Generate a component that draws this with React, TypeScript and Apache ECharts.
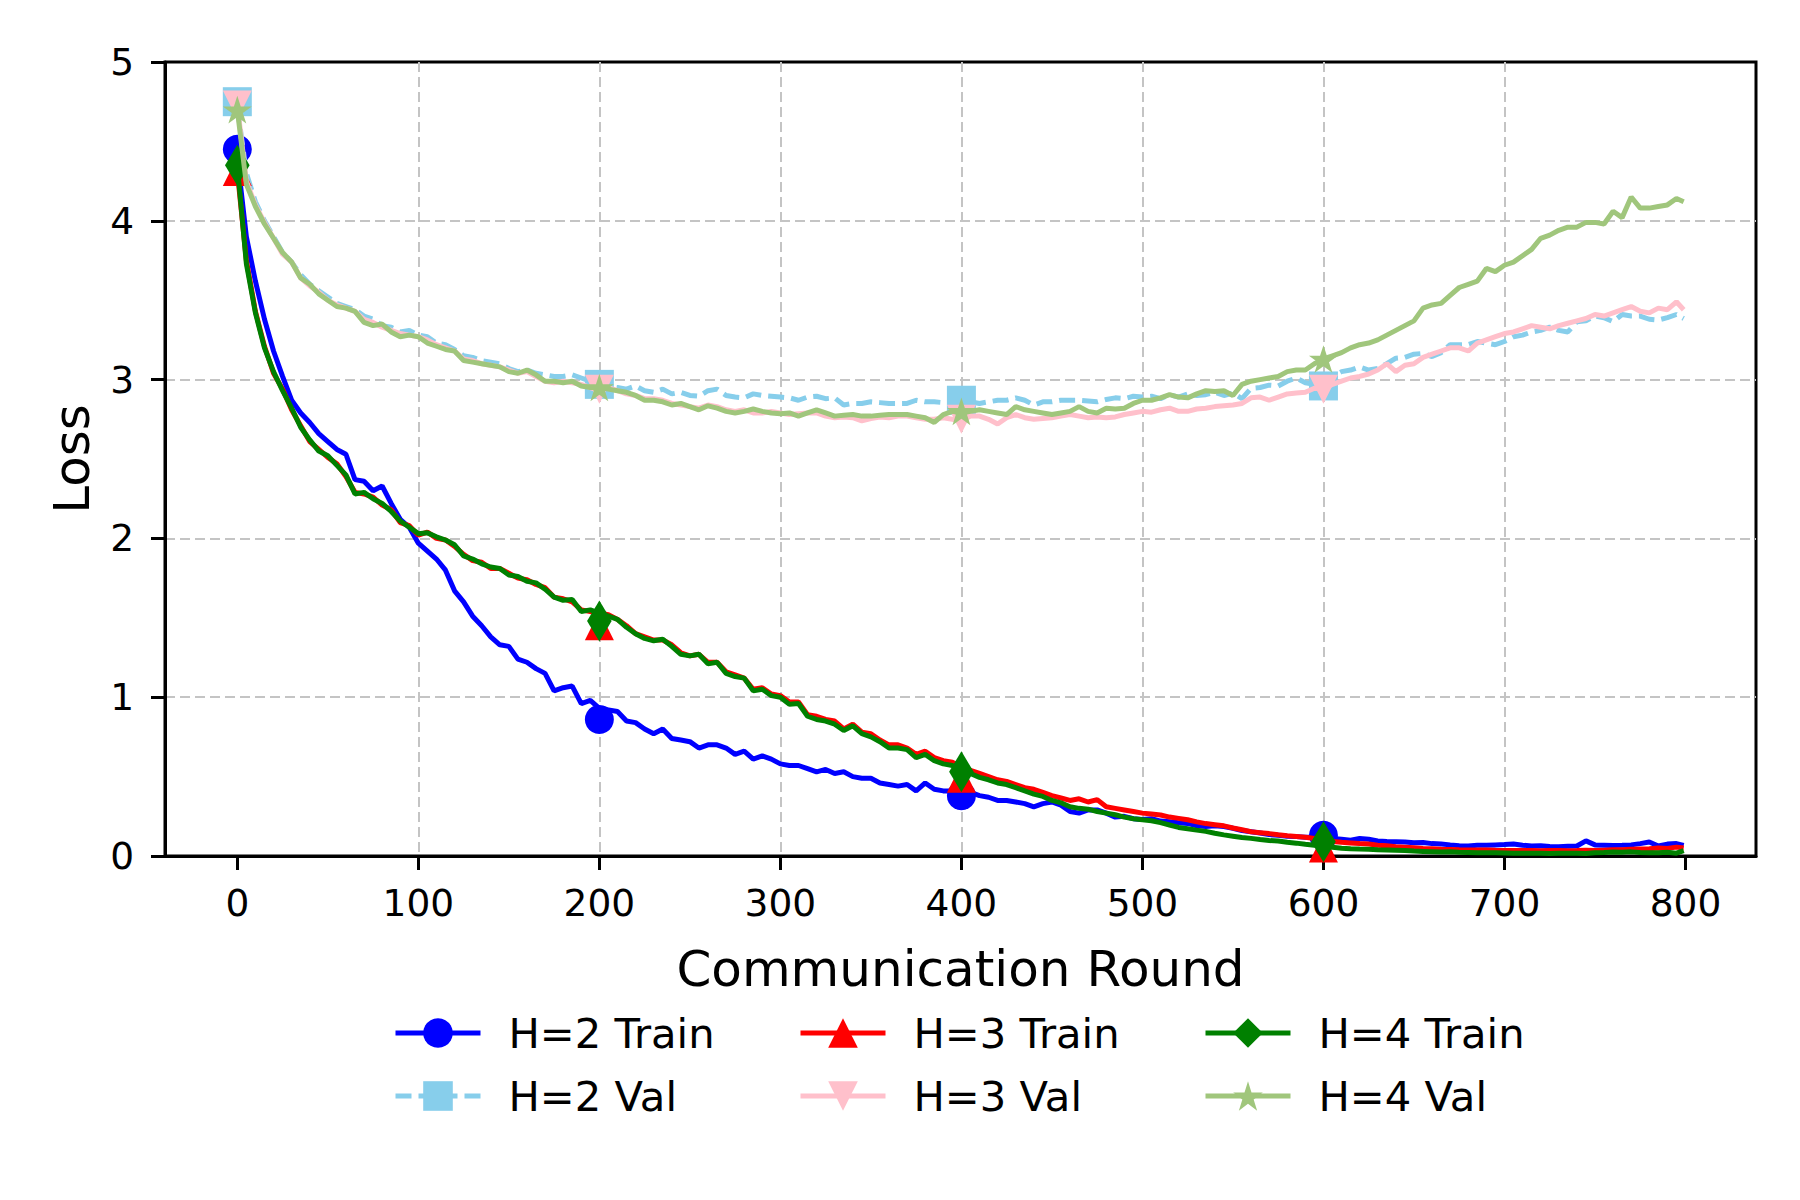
import React, { useEffect, useRef } from 'react';
import * as echarts from 'echarts';

// Communication rounds sampled every 5 rounds (0..795) plus the last round 799
const rounds: number[] = [...Array.from({ length: 160 }, (_, i) => i * 5), 799];
const markerRounds = [0, 200, 400, 600];
const xTicks = [0, 100, 200, 300, 400, 500, 600, 700, 800];

const h2Train = [
  4.40, 3.90, 3.62, 3.38, 3.18, 3.02, 2.87, 2.79, 2.73, 2.66,
  2.61, 2.56, 2.53, 2.37, 2.36, 2.30, 2.33, 2.22, 2.12, 2.07,
  1.97, 1.92, 1.87, 1.80, 1.67, 1.60, 1.51, 1.45, 1.38, 1.33,
  1.32, 1.24, 1.22, 1.18, 1.15, 1.04, 1.06, 1.07, 0.96, 0.98,
  0.93, 0.92, 0.91, 0.85, 0.84, 0.80, 0.77, 0.80, 0.74, 0.73,
  0.72, 0.68, 0.70, 0.70, 0.68, 0.64, 0.66, 0.61, 0.63, 0.61,
  0.58, 0.57, 0.57, 0.55, 0.53, 0.545, 0.52, 0.53, 0.50, 0.49,
  0.49, 0.46, 0.45, 0.44, 0.45, 0.41, 0.46, 0.42, 0.41, 0.41,
  0.42, 0.40, 0.38, 0.37, 0.35, 0.35, 0.34, 0.33, 0.31, 0.33,
  0.34, 0.32, 0.28, 0.27, 0.29, 0.29, 0.27, 0.245, 0.25, 0.235,
  0.23, 0.235, 0.22, 0.216, 0.21, 0.205, 0.19, 0.185, 0.19, 0.185,
  0.175, 0.16, 0.153, 0.145, 0.135, 0.13, 0.125, 0.122, 0.118, 0.12,
  0.125, 0.11, 0.105, 0.10, 0.11, 0.105, 0.095, 0.092, 0.09, 0.088,
  0.084, 0.085, 0.078, 0.076, 0.07, 0.065, 0.063, 0.068, 0.067, 0.07,
  0.072, 0.076, 0.068, 0.063, 0.065, 0.06, 0.059, 0.062, 0.063, 0.095,
  0.07, 0.068, 0.066, 0.067, 0.07, 0.078, 0.088, 0.063, 0.075, 0.078,
  0.067,
];

const h3Train = [
  4.31, 3.75, 3.43, 3.21, 3.04, 2.94, 2.81, 2.71, 2.61, 2.56,
  2.51, 2.47, 2.39, 2.29, 2.28, 2.26, 2.21, 2.18, 2.10, 2.08,
  2.02, 2.04, 2.00, 1.99, 1.95, 1.90, 1.86, 1.85, 1.81, 1.81,
  1.78, 1.75, 1.74, 1.71, 1.69, 1.63, 1.62, 1.60, 1.55, 1.54,
  1.53, 1.52, 1.49, 1.45, 1.40, 1.38, 1.36, 1.36, 1.33, 1.28,
  1.26, 1.27, 1.22, 1.22, 1.16, 1.14, 1.12, 1.05, 1.06, 1.02,
  1.01, 0.97, 0.97, 0.89, 0.88, 0.86, 0.85, 0.80, 0.83, 0.78,
  0.77, 0.73, 0.70, 0.70, 0.68, 0.64, 0.66, 0.62, 0.60, 0.59,
  0.56, 0.54, 0.52, 0.50, 0.48, 0.47, 0.45, 0.43, 0.42, 0.40,
  0.38, 0.365, 0.35, 0.36, 0.34, 0.355, 0.31, 0.30, 0.29, 0.28,
  0.27, 0.264, 0.258, 0.245, 0.237, 0.228, 0.215, 0.204, 0.197, 0.19,
  0.176, 0.165, 0.153, 0.147, 0.141, 0.134, 0.128, 0.123, 0.118, 0.11,
  0.10, 0.092, 0.086, 0.082, 0.078, 0.075, 0.068, 0.064, 0.058, 0.055,
  0.052, 0.048, 0.045, 0.042, 0.041, 0.039, 0.038, 0.037, 0.038, 0.036,
  0.035, 0.034, 0.035, 0.034, 0.033, 0.034, 0.034, 0.033, 0.034, 0.036,
  0.035, 0.037, 0.039, 0.040, 0.042, 0.044, 0.046, 0.05, 0.048, 0.056,
  0.05,
];

const h4Train = [
  4.35, 3.73, 3.42, 3.20, 3.05, 2.93, 2.82, 2.70, 2.62, 2.55,
  2.52, 2.46, 2.40, 2.28, 2.29, 2.25, 2.22, 2.17, 2.11, 2.07,
  2.03, 2.035, 2.01, 1.99, 1.96, 1.89, 1.87, 1.84, 1.82, 1.81,
  1.77, 1.76, 1.73, 1.72, 1.68, 1.63, 1.61, 1.615, 1.54, 1.55,
  1.53, 1.51, 1.49, 1.44, 1.40, 1.37, 1.355, 1.365, 1.32, 1.27,
  1.26, 1.27, 1.21, 1.22, 1.15, 1.13, 1.12, 1.04, 1.05, 1.01,
  1.00, 0.955, 0.96, 0.88, 0.86, 0.85, 0.83, 0.79, 0.82, 0.77,
  0.75, 0.72, 0.68, 0.68, 0.67, 0.62, 0.64, 0.60, 0.58, 0.57,
  0.545, 0.52, 0.495, 0.48, 0.46, 0.45, 0.43, 0.41, 0.39, 0.375,
  0.35, 0.335, 0.31, 0.30, 0.295, 0.28, 0.27, 0.26, 0.245, 0.235,
  0.228, 0.222, 0.21, 0.195, 0.18, 0.172, 0.163, 0.155, 0.143, 0.133,
  0.125, 0.117, 0.111, 0.104, 0.098, 0.094, 0.086, 0.081, 0.074, 0.068,
  0.063, 0.055, 0.049, 0.046, 0.044, 0.043, 0.04, 0.038, 0.036, 0.034,
  0.031, 0.029, 0.027, 0.025, 0.026, 0.023, 0.022, 0.021, 0.021, 0.02,
  0.019, 0.018, 0.017, 0.018, 0.017, 0.016, 0.017, 0.017, 0.018, 0.016,
  0.02, 0.022, 0.025, 0.024, 0.026, 0.022, 0.02, 0.021, 0.023, 0.018,
  0.034,
];

const h2Val = [
  4.72, 4.30, 4.12, 4.00, 3.90, 3.80, 3.74, 3.66, 3.60, 3.56,
  3.52, 3.48, 3.46, 3.44, 3.40, 3.38, 3.34, 3.33, 3.30, 3.31,
  3.28, 3.27, 3.23, 3.22, 3.19, 3.15, 3.14, 3.12, 3.11, 3.10,
  3.07, 3.05, 3.06, 3.04, 3.03, 3.02, 3.02, 3.03, 3.01, 2.99,
  2.97, 2.96, 2.95, 2.94, 2.96, 2.93, 2.92, 2.94, 2.91, 2.92,
  2.90, 2.895, 2.93, 2.94, 2.90, 2.89, 2.885, 2.91, 2.90, 2.895,
  2.89, 2.885, 2.87, 2.89, 2.895, 2.88, 2.885, 2.84, 2.85, 2.85,
  2.86, 2.855, 2.85, 2.85, 2.85, 2.87, 2.86, 2.86, 2.855, 2.86,
  2.87, 2.86, 2.85, 2.86, 2.87, 2.87, 2.885, 2.87, 2.84, 2.86,
  2.86, 2.87, 2.87, 2.87, 2.865, 2.86, 2.875, 2.885, 2.88, 2.895,
  2.89, 2.895, 2.88, 2.905, 2.89, 2.91, 2.90, 2.905, 2.92, 2.90,
  2.915, 2.88, 2.945, 2.95, 2.965, 2.96, 2.99, 3.01, 2.98, 2.97,
  2.97, 3.02, 3.05, 3.06, 3.08, 3.06, 3.07, 3.10, 3.135, 3.14,
  3.16, 3.165, 3.145, 3.17, 3.22, 3.22, 3.22, 3.24, 3.23, 3.22,
  3.24, 3.27, 3.28, 3.30, 3.31, 3.33, 3.31, 3.30, 3.365, 3.37,
  3.40, 3.39, 3.365, 3.41, 3.40, 3.40, 3.38, 3.375, 3.39, 3.41,
  3.385,
];

const h3Val = [
  4.73, 4.25, 4.10, 3.99, 3.89, 3.79, 3.74, 3.64, 3.59, 3.55,
  3.50, 3.47, 3.45, 3.43, 3.38, 3.36, 3.33, 3.31, 3.29, 3.28,
  3.27, 3.25, 3.22, 3.20, 3.18, 3.13, 3.12, 3.10, 3.09, 3.08,
  3.06, 3.04, 3.05, 3.02, 2.99, 2.98, 2.99, 2.98, 2.97, 2.95,
  2.93, 2.95, 2.93, 2.91, 2.90, 2.88, 2.88, 2.87, 2.85, 2.84,
  2.83, 2.82, 2.84, 2.83, 2.81, 2.80, 2.81, 2.79, 2.79, 2.80,
  2.79, 2.78, 2.785, 2.79, 2.79, 2.77, 2.76, 2.765, 2.76, 2.74,
  2.755, 2.765, 2.76, 2.77, 2.77, 2.76, 2.75, 2.75, 2.76, 2.75,
  2.74, 2.77, 2.77, 2.75, 2.72, 2.76, 2.78, 2.76, 2.75, 2.755,
  2.76, 2.77, 2.78, 2.77, 2.76, 2.765, 2.76, 2.765, 2.78, 2.79,
  2.80, 2.795, 2.81, 2.82, 2.80, 2.80, 2.815, 2.82, 2.83, 2.835,
  2.84, 2.85, 2.885, 2.89, 2.87, 2.89, 2.91, 2.915, 2.92, 2.945,
  2.94, 2.97, 2.99, 3.01, 3.02, 3.035, 3.06, 3.10, 3.05, 3.09,
  3.10, 3.14, 3.16, 3.18, 3.20, 3.20, 3.18, 3.23, 3.25, 3.27,
  3.29, 3.30, 3.32, 3.34, 3.33, 3.32, 3.34, 3.355, 3.37, 3.385,
  3.41, 3.40, 3.42, 3.44, 3.46, 3.43, 3.42, 3.45, 3.44, 3.49,
  3.44,
];

const h4Val = [
  4.70, 4.23, 4.09, 3.98, 3.89, 3.80, 3.74, 3.64, 3.60, 3.54,
  3.50, 3.46, 3.45, 3.43, 3.36, 3.34, 3.35, 3.30, 3.27, 3.28,
  3.27, 3.23, 3.21, 3.19, 3.18, 3.12, 3.11, 3.10, 3.09, 3.08,
  3.05, 3.04, 3.06, 3.03, 2.99, 2.99, 2.98, 2.99, 2.96, 2.95,
  2.95, 2.94, 2.93, 2.92, 2.90, 2.87, 2.87, 2.86, 2.84, 2.85,
  2.83, 2.81, 2.835, 2.82, 2.80, 2.79, 2.80, 2.815, 2.80, 2.79,
  2.785, 2.79, 2.77, 2.79, 2.81, 2.79, 2.77, 2.775, 2.78, 2.77,
  2.77, 2.775, 2.78, 2.78, 2.78, 2.77, 2.76, 2.73, 2.78, 2.80,
  2.79, 2.80, 2.81, 2.80, 2.79, 2.78, 2.83, 2.81, 2.80, 2.79,
  2.78, 2.79, 2.80, 2.83, 2.80, 2.79, 2.82, 2.815, 2.82, 2.85,
  2.87, 2.87, 2.885, 2.905, 2.89, 2.885, 2.91, 2.93, 2.925, 2.93,
  2.90, 2.97, 2.99, 3.00, 3.01, 3.02, 3.05, 3.06, 3.06, 3.10,
  3.13, 3.15, 3.17, 3.20, 3.22, 3.23, 3.25, 3.28, 3.31, 3.34,
  3.37, 3.45, 3.47, 3.48, 3.53, 3.58, 3.60, 3.62, 3.70, 3.68,
  3.72, 3.74, 3.78, 3.82, 3.89, 3.91, 3.94, 3.96, 3.96, 3.99,
  3.99, 3.98, 4.06, 4.02, 4.15, 4.08, 4.08, 4.09, 4.10, 4.14,
  4.12,
];

// Marker values at rounds 0, 200, 400, 600
const h2TrainMk = [4.45, 0.86, 0.38, 0.13];
const h3TrainMk = [4.31, 1.45, 0.49, 0.05];
const h4TrainMk = [4.35, 1.48, 0.53, 0.09];
const h2ValMk = [4.75, 2.97, 2.87, 2.96];
const h3ValMk = [4.73, 2.94, 2.75, 2.94];
const h4ValMk = [4.70, 2.95, 2.80, 3.13];

const names = ['H=2 Train', 'H=2 Val', 'H=3 Train', 'H=3 Val', 'H=4 Train', 'H=4 Val'];

const STAR = 'path://M0,-1L0.2245,-0.309L0.9511,-0.309L0.3633,0.118L0.5878,0.809L0,0.382L-0.5878,0.809L-0.3633,0.118L-0.9511,-0.309L-0.2245,-0.309Z';
const TRI_DOWN = 'path://M-1,-1L1,-1L0,1Z';
const THIN_DIAMOND = 'path://M0,-1L0.6,0L0,1L-0.6,0Z';

const FONT = 'DejaVu Sans';
const LW = 5;

const defs = [
  { name: names[0], vals: h2Train, mk: h2TrainMk, color: '#0000ff', dash: 'solid', symbol: 'circle', legendSymbol: 'circle', size: 29 },
  { name: names[1], vals: h2Val, mk: h2ValMk, color: '#87ceeb', dash: [16, 7], symbol: 'rect', legendSymbol: 'rect', size: 29 },
  { name: names[2], vals: h3Train, mk: h3TrainMk, color: '#ff0000', dash: 'solid', symbol: 'triangle', legendSymbol: 'triangle', size: 29 },
  { name: names[3], vals: h3Val, mk: h3ValMk, color: '#ffc0cb', dash: 'solid', symbol: TRI_DOWN, legendSymbol: TRI_DOWN, size: 29 },
  { name: names[4], vals: h4Train, mk: h4TrainMk, color: '#008000', dash: 'solid', symbol: 'diamond', legendSymbol: THIN_DIAMOND, size: [24.6, 41] },
  { name: names[5], vals: h4Val, mk: h4ValMk, color: '#a0c67c', dash: 'solid', symbol: STAR, legendSymbol: STAR, size: 29 },
];

export default function App() {
  const ref = useRef<HTMLDivElement>(null);
  useEffect(() => {
    if (!ref.current) return;
    const chart = echarts.init(ref.current, undefined, { renderer: 'svg' });
    const series: any[] = [];
    defs.forEach((d, i) => {
      series.push({
        type: 'line',
        name: d.name,
        data: rounds.map((r, k) => [r, d.vals[k]]),
        showSymbol: false,
        symbol: d.legendSymbol,
        symbolKeepAspect: true,
        lineStyle: { color: d.color, width: LW, type: d.dash },
        itemStyle: { color: d.color },
        z: 2 + i * 2,
        silent: true,
      });
      series.push({
        type: 'scatter',
        name: d.name + ' markers',
        data: markerRounds.map((r, k) => [r, d.mk[k]]),
        symbol: d.symbol,
        symbolSize: d.size,
        symbolKeepAspect: true,
        itemStyle: { color: d.color, opacity: 1 },
        z: 3 + i * 2,
        silent: true,
      });
    });
    const colLeft = [393, 798, 1203];
    const legends = [0, 1, 2].map((c) => ({
      orient: 'vertical',
      left: colLeft[c],
      top: 1012,
      padding: 0,
      itemWidth: 85,
      itemHeight: 37,
      itemGap: 21,
      selectedMode: false,
      lineStyle: { width: LW },
      data: [names[c * 2], names[c * 2 + 1]],
      textStyle: { fontFamily: FONT, fontSize: 41.7, color: '#000', padding: [0, 0, 0, 23], lineHeight: 37 },
    }));
    const splitLine = { show: true, showMinLine: false, showMaxLine: false, lineStyle: { color: '#c4c4c4', width: 2, type: [10, 5] } };
    chart.setOption({
      animation: false,
      backgroundColor: '#ffffff',
      grid: { left: 165, top: 62, width: 1591, height: 794, show: true, borderColor: '#000', borderWidth: 3, backgroundColor: 'transparent' },
      legend: legends,
      xAxis: {
        type: 'value',
        min: -39.95,
        max: 838.95,
        name: 'Communication Round',
        nameLocation: 'middle',
        nameGap: 88,
        nameTextStyle: { fontFamily: FONT, fontSize: 50, color: '#000' },
        axisLine: { show: true, onZero: false, lineStyle: { color: '#000', width: 3 } },
        axisTick: { show: true, length: 14, lineStyle: { color: '#000', width: 3 }, customValues: xTicks },
        axisLabel: { fontFamily: FONT, fontSize: 37.5, color: '#000', margin: 28, customValues: xTicks },
        splitLine,
      },
      yAxis: {
        type: 'value',
        min: 0,
        max: 5,
        interval: 1,
        name: 'Loss',
        nameLocation: 'middle',
        nameGap: 68,
        nameTextStyle: { fontFamily: FONT, fontSize: 50, color: '#000' },
        axisLine: { show: true, onZero: false, lineStyle: { color: '#000', width: 3 } },
        axisTick: { show: true, length: 14, lineStyle: { color: '#000', width: 3 } },
        axisLabel: { fontFamily: FONT, fontSize: 37.5, color: '#000', margin: 31 },
        splitLine,
      },
      series,
    });
    return () => chart.dispose();
  }, []);
  return (
    <div
      ref={ref}
      style={{ position: 'absolute', left: 0, top: 0, width: 1800, height: 1200, background: '#fff' }}
    />
  );
}
